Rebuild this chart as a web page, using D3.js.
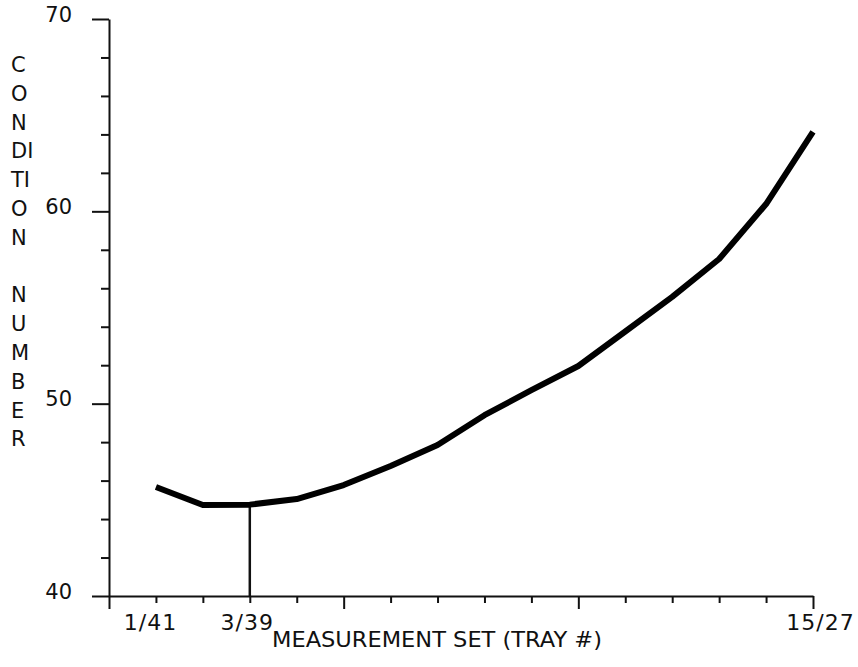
<!DOCTYPE html>
<html>
<head>
<meta charset="utf-8">
<script src="https://cdn.jsdelivr.net/npm/d3@7"></script>
<style>
  body { margin: 0; background: #fff; }
  svg { display: block; }
  text { font-family: "DejaVu Sans", sans-serif; fill: #111; }
</style>
</head>
<body>
<script>
// measurement set index (0 = origin), tray labels sum to 42
var setIndex = [1, 2, 3, 4, 5, 6, 7, 8, 9, 10, 11, 12, 13, 14, 15];
var condNumber = [45.67, 44.73, 44.75, 45.04, 45.77, 46.76, 47.85, 49.4, 50.7, 51.96, 53.75, 55.55, 57.52, 60.38, 64.13];
var xLabels = {1: "1/41", 3: "3/39", 15: "15/27"};
var yMajor = [40, 50, 60, 70];
var yLabelLetters = ["C", "O", "N", "DI", "TI", "O", "N", "", "N", "U", "M", "B", "E", "R"];
var markedSet = 3;

var width = 858, height = 667;

var svg = d3.select("body").append("svg")
  .attr("width", width)
  .attr("height", height);

var x = d3.scaleLinear().domain([0, 15]).range([109, 813]);
var y = d3.scaleLinear().domain([40, 70]).range([596, 19]);

// y axis
var yAxis = d3.axisLeft(y)
  .tickValues(d3.range(40, 71, 2))
  .tickSizeOuter(0)
  .tickFormat(d => yMajor.includes(d) ? d : "");

var gy = svg.append("g")
  .attr("transform", "translate(" + x(0) + ",0)")
  .call(yAxis);
gy.select(".domain").attr("stroke", "#111").attr("stroke-width", 2);
gy.selectAll(".tick line")
  .attr("stroke", "#111").attr("stroke-width", 2)
  .attr("x2", d => yMajor.includes(d) ? -17 : -8);
gy.selectAll(".tick text")
  .attr("x", -37)
  .attr("dy", "0.1em")
  .style("font-size", "21px")
  .style("font-family", "DejaVu Sans");

// x axis
var xAxis = d3.axisBottom(x)
  .tickValues(d3.range(0, 16))
  .tickSizeOuter(0)
  .tickFormat(d => xLabels[d] || "");

var gx = svg.append("g")
  .attr("transform", "translate(0," + y(40) + ")")
  .call(xAxis);
gx.select(".domain").attr("stroke", "#111").attr("stroke-width", 2);
gx.selectAll(".tick line")
  .attr("stroke", "#111").attr("stroke-width", 2)
  .attr("y2", d => d % 5 === 0 ? 13 : 7);
gx.selectAll(".tick text")
  .attr("y", 18)
  .attr("dx", d => d === 1 ? -6 : d === 15 ? 7 : -3)
  .style("font-size", "22px")
  .style("letter-spacing", "1px")
  .style("font-family", "DejaVu Sans");

// axis titles
svg.append("text")
  .attr("x", 437)
  .attr("y", 647)
  .attr("text-anchor", "middle")
  .attr("textLength", 330)
  .attr("lengthAdjust", "spacingAndGlyphs")
  .style("font-size", "21px")
  .text("MEASUREMENT SET (TRAY #)");

svg.append("g")
  .selectAll("text")
  .data(yLabelLetters)
  .enter()
  .append("text")
  .attr("x", 11)
  .attr("y", (d, i) => 72 + i * 28.8)
  .style("font-size", "21px")
  .text(d => d);

// marker line at chosen set
var marked = condNumber[setIndex.indexOf(markedSet)];
svg.append("line")
  .attr("x1", x(markedSet)).attr("x2", x(markedSet))
  .attr("y1", y(marked)).attr("y2", y(40))
  .attr("stroke", "#111")
  .attr("stroke-width", 2.5);

// condition number curve
var line = d3.line()
  .x((d, i) => x(setIndex[i]))
  .y(d => y(d));

svg.append("path")
  .datum(condNumber)
  .attr("d", line)
  .attr("fill", "none")
  .attr("stroke", "#000")
  .attr("stroke-width", 6)
  .attr("stroke-linejoin", "round");
</script>
</body>
</html>
